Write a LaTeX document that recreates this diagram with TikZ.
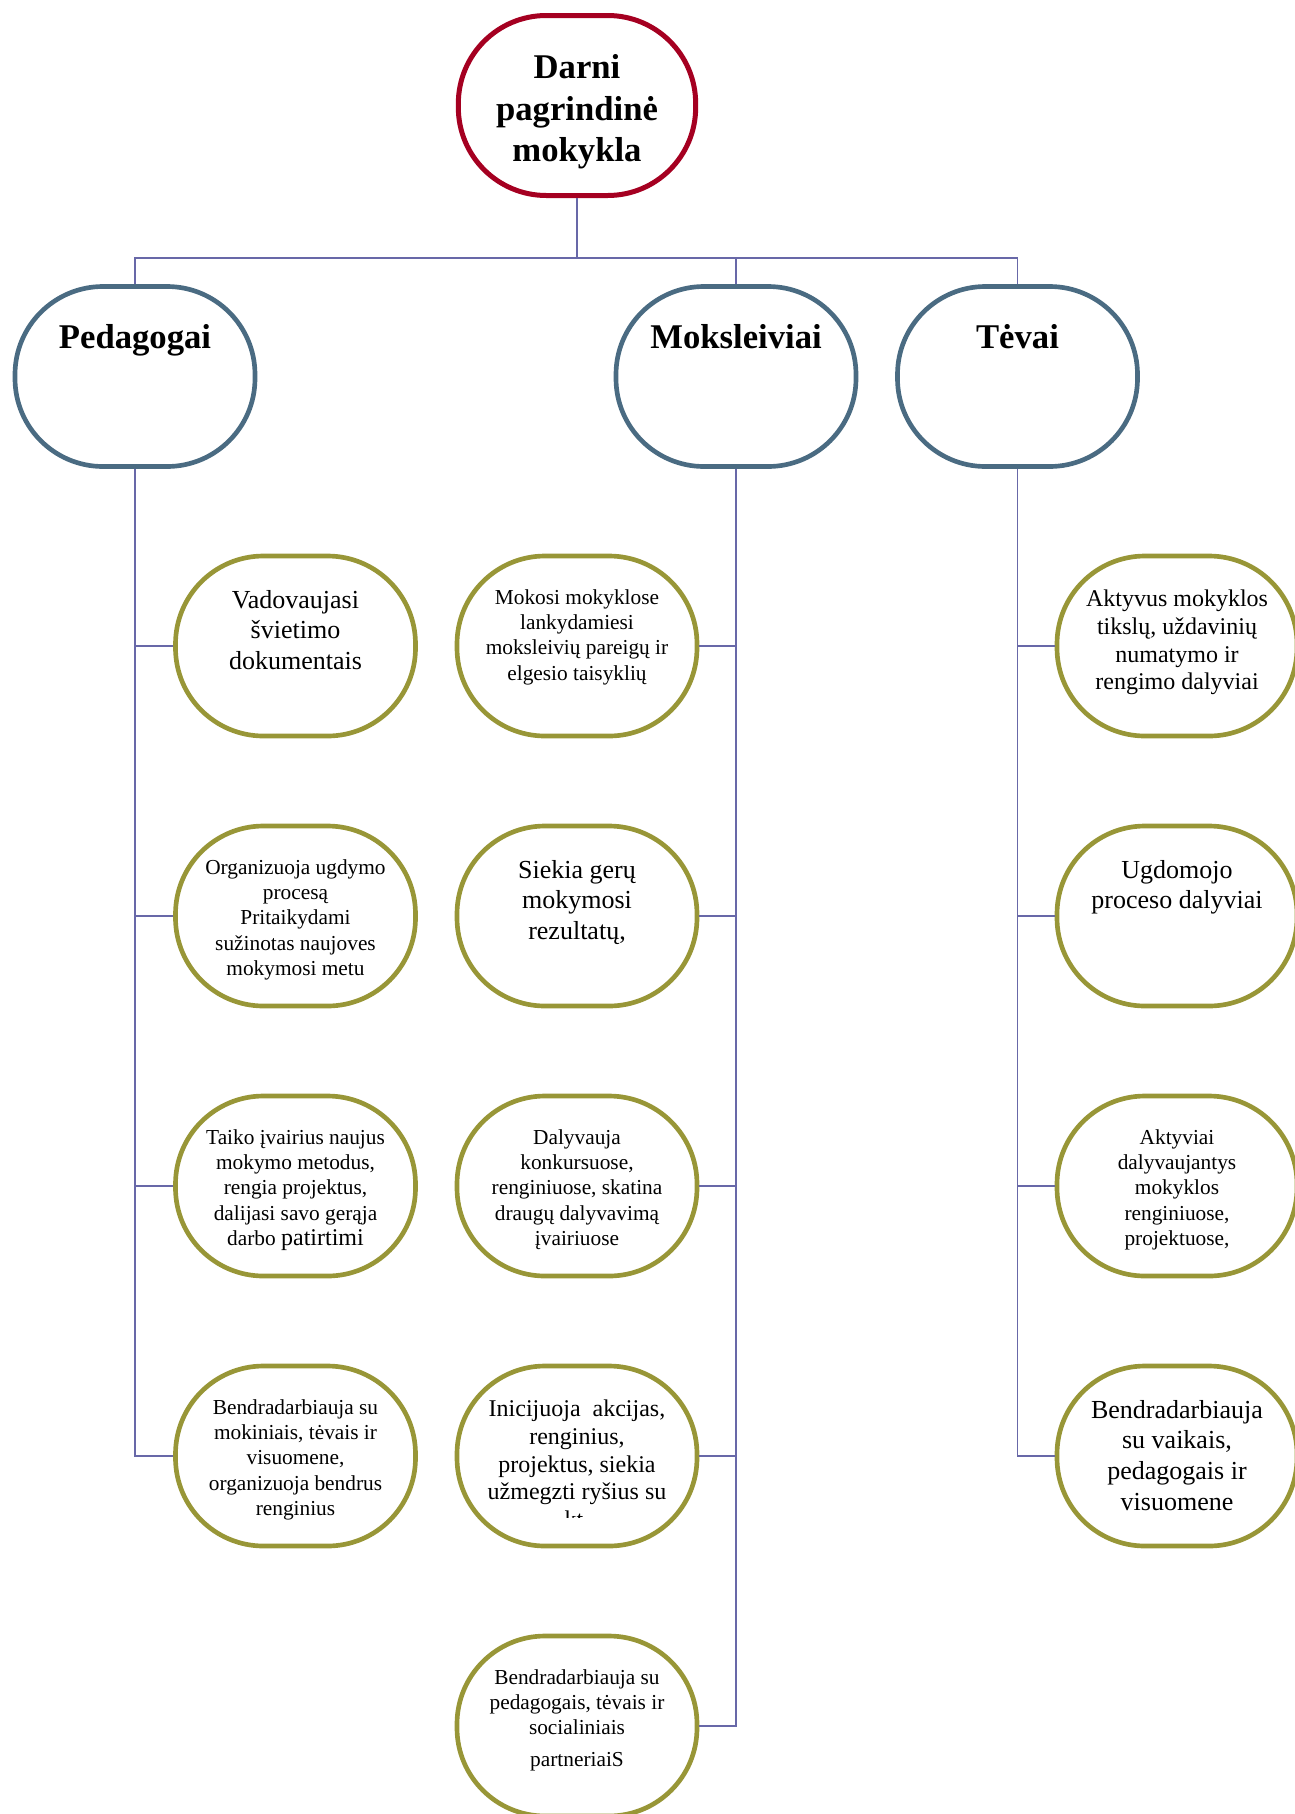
\documentclass[tikz,border=0pt]{standalone}
\usepackage{fontspec}
\setmainfont{Liberation Serif}

\definecolor{rootred}{RGB}{165,0,33}
\definecolor{grpblue}{RGB}{74,107,130}
\definecolor{itemolive}{RGB}{152,150,55}
\definecolor{linkblue}{RGB}{104,104,168}

\tikzset{every picture/.style={line width=0.75pt}}
\tikzset{
  rootbox/.style={draw=rootred, line width=3.75pt, rounded corners=66pt, minimum width=178pt, minimum height=135pt, inner sep=0pt},
  roottxt/.style={anchor=center, inner sep=0pt, align=center, font=\bfseries\fontsize{26}{31}\selectfont},
  grpbox/.style={draw=grpblue, line width=3.5pt, rounded corners=66pt, minimum width=180pt, minimum height=135pt, inner sep=0pt},
  itembox/.style={draw=itemolive, line width=3.5pt, rounded corners=66pt, minimum width=180pt, minimum height=135pt, inner sep=0pt},
  grplabel/.style={anchor=base, inner sep=0pt, font=\bfseries\fontsize{26}{31}\selectfont},
  itemtext/.style={anchor=north, inner sep=0pt, align=center},
  bigtxt/.style={itemtext, font=\fontsize{19.5}{23.2}\selectfont},
  midtxt/.style={itemtext, font=\fontsize{18}{20.8}\selectfont},
  smalltxt/.style={itemtext, font=\fontsize{16}{18.8}\selectfont},
  link/.style={draw=linkblue, line width=1.2pt},
}

\begin{document}
\begin{tikzpicture}[x=0.75pt,y=0.75pt,yscale=-1,xscale=1]
    \useasboundingbox (0,0) rectangle (1295,1814);

    %Shape: Root [id:school]
    \node [rootbox] (school) at (577,105.5) {};
    % Text Node
    \draw (577,112) node [roottxt] (schooltxt) {Darni\\pagrindinė\\mokykla};

    %Shape: Groups
    \node [grpbox] (ped) at (135,376.5) {};
    \node [grpbox] (mok) at (736,376.5) {};
    \node [grpbox] (tev) at (1017.5,376.5) {};
    % Text Node
    \draw (135,348) node [grplabel] (pedlbl) {Pedagogai};
    % Text Node
    \draw (736,348) node [grplabel] (moklbl) {Moksleiviai};
    % Text Node
    \draw (1017.5,348) node [grplabel] (tevlbl) {Tėvai};

    %Shape: Pedagogai items
    \node [itembox] (p1) at (295.5,646) {};
    \node [itembox] (p2) at (295.5,916) {};
    \node [itembox] (p3) at (295.5,1186) {};
    \node [itembox] (p4) at (295.5,1456) {};
    %Shape: Moksleiviai items
    \node [itembox] (m1) at (577,646) {};
    \node [itembox] (m2) at (577,916) {};
    \node [itembox] (m3) at (577,1186) {};
    \node [itembox] (m4) at (577,1456) {};
    \node [itembox] (m5) at (577,1726) {};
    %Shape: Tevai items
    \node [itembox] (t1) at (1177,646) {};
    \node [itembox] (t2) at (1177,916) {};
    \node [itembox] (t3) at (1177,1186) {};
    \node [itembox] (t4) at (1177,1456) {};

    % Text Node
    \draw (295.5,589.5) node [bigtxt] (p1txt) {Vadovaujasi\\švietimo\\dokumentais};
    % Text Node
    \draw (295.5,859.5) node [smalltxt] (p2txt) {Organizuoja ugdymo\\procesą\\Pritaikydami\\sužinotas naujoves\\mokymosi metu};
    % Text Node
    \draw (295.5,1129.5) node [smalltxt] (p3txt) {Taiko įvairius naujus\\mokymo metodus,\\rengia projektus,\\dalijasi savo gerąja\\darbo {\fontsize{18}{18.8}\selectfont patirtimi}};
    % Text Node
    \draw (295.5,1399.5) node [smalltxt] (p4txt) {Bendradarbiauja su\\mokiniais, tėvais ir\\visuomene,\\organizuoja bendrus\\renginius};

    % Text Node
    \draw (577,589.5) node [smalltxt] (m1txt) {Mokosi mokyklose\\lankydamiesi\\moksleivių pareigų ir\\elgesio taisyklių};
    % Text Node
    \draw (577,859.5) node [bigtxt] (m2txt) {Siekia gerų\\mokymosi\\rezultatų,};
    % Text Node
    \draw (577,1129.5) node [smalltxt] (m3txt) {Dalyvauja\\konkursuose,\\renginiuose, skatina\\draugų dalyvavimą\\įvairiuose};
    % Text Node (cut at the bottom)
    \begin{scope}
      \clip (455,1365) rectangle (700,1517);
      \draw (577,1399.5) node [midtxt] (m4txt) {Inicijuoja~~akcijas,\\renginius,\\projektus, siekia\\užmegzti ryšius su\\kt.};
    \end{scope}
    % Text Node
    \draw (577,1669.5) node [smalltxt] (m5txt) {Bendradarbiauja su\\pedagogais, tėvais ir\\socialiniais\\[4.5pt]partneriaiS};

    % Text Node
    \draw (1177,589.5) node [midtxt] (t1txt) {Aktyvus mokyklos\\tikslų, uždavinių\\numatymo ir\\rengimo dalyviai};
    % Text Node
    \draw (1177,859.5) node [bigtxt] (t2txt) {Ugdomojo\\proceso dalyviai};
    % Text Node
    \draw (1177,1129.5) node [smalltxt] (t3txt) {Aktyviai\\dalyvaujantys\\mokyklos\\renginiuose,\\projektuose,};
    % Text Node
    \draw (1177,1399.5) node [bigtxt] (t4txt) {Bendradarbiauja\\su vaikais,\\pedagogais ir\\visuomene};

    %Straight Lines: root to groups
    \coordinate (split) at (577,258);
    \draw [link] (school.south) -- (split);
    \draw [link] (ped.north) |- (split) -| (tev.north);
    \draw [link] (mok.north) -- (mok.north |- split);

    %Straight Lines: Pedagogai
    \draw [link] (ped.south) |- (p4.west);
    \draw [link] (p1.west) -- (p1.west -| ped.south);
    \draw [link] (p2.west) -- (p2.west -| ped.south);
    \draw [link] (p3.west) -- (p3.west -| ped.south);
    %Straight Lines: Moksleiviai
    \draw [link] (mok.south) |- (m5.east);
    \draw [link] (m1.east) -- (m1.east -| mok.south);
    \draw [link] (m2.east) -- (m2.east -| mok.south);
    \draw [link] (m3.east) -- (m3.east -| mok.south);
    \draw [link] (m4.east) -- (m4.east -| mok.south);
    %Straight Lines: Tevai
    \draw [link] (tev.south) |- (t4.west);
    \draw [link] (t1.west) -- (t1.west -| tev.south);
    \draw [link] (t2.west) -- (t2.west -| tev.south);
    \draw [link] (t3.west) -- (t3.west -| tev.south);

\end{tikzpicture}
\end{document}
